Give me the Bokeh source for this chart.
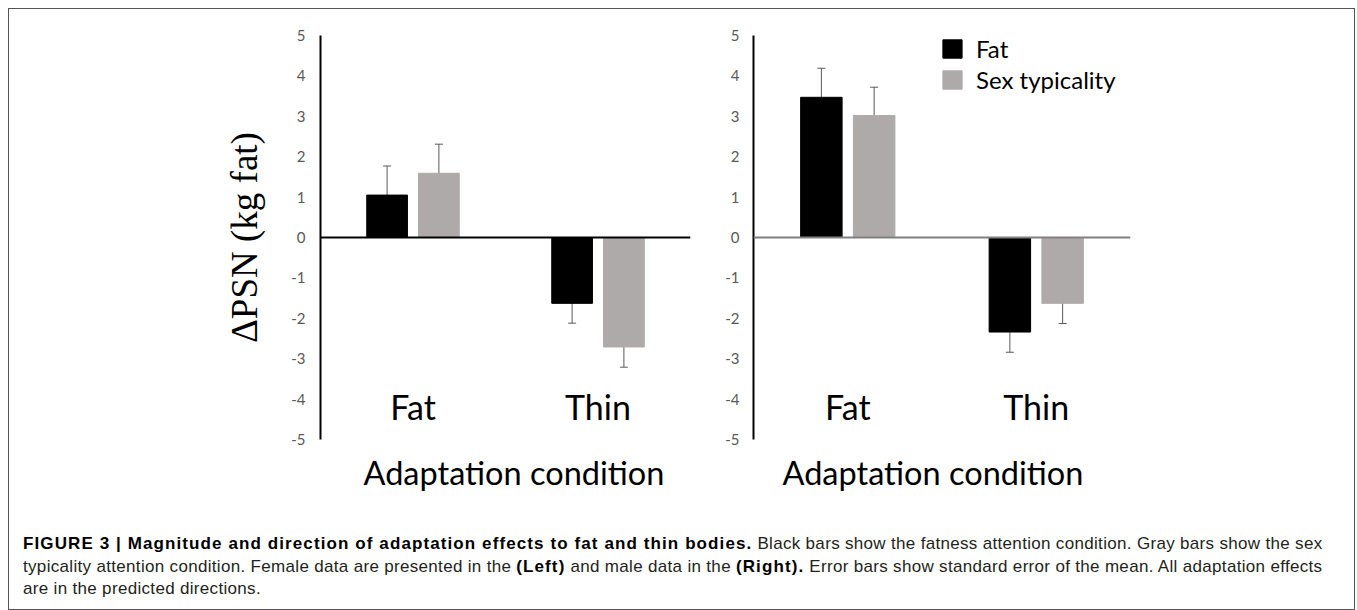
from bokeh.plotting import figure
from bokeh.models import (FactorRange, ColumnDataSource, Whisker, TeeHead, Span, Legend,
                          LegendItem, FixedTicker, Title, Div, Range1d)
from bokeh.transform import dodge
from bokeh.layouts import row, column
from bokeh.embed import file_html
from bokeh.resources import INLINE

# ---------------- data ----------------
categories = ["Fat", "Thin"]
series_names = ["Fat", "Sex typicality"]

female_fat = [1.05, -1.63]
female_fat_err = [0.72, 0.49]
female_sex = [1.59, -2.71]
female_sex_err = [0.72, 0.50]

male_fat = [3.47, -2.34]
male_fat_err = [0.72, 0.50]
male_sex = [3.02, -1.63]
male_sex_err = [0.70, 0.50]

y_ticks = [-5, -4, -3, -2, -1, 0, 1, 2, 3, 4, 5]
y_tick_labels = ["-5", "-4", "-3", "-2", "-1", "0", "1", "2", "3", "4", "5"]
y_title = "\u0394PSN (kg fat)"
x_title = "Adaptation condition"

BLACK = "#000000"
GRAY = "#aeaaaa"
ERR = "#595959"
TICK = "#595959"
SANS = "Lato"


def panel(fat, fat_err, sex, sex_err, width, bl, br, zero_color, ylabel=None, legend=False,
          label_standoff=15, title_offset=0):
    src = ColumnDataSource(dict(
        cat=categories,
        fat=fat, sex=sex,
        fat_lo=[v - e for v, e in zip(fat, fat_err)],
        fat_hi=[v + e for v, e in zip(fat, fat_err)],
        sex_lo=[v - e for v, e in zip(sex, sex_err)],
        sex_hi=[v + e for v, e in zip(sex, sex_err)],
    ))
    p = figure(x_range=FactorRange(*categories), y_range=Range1d(-5, 5),
               width=width, height=496, min_border_left=bl, min_border_right=br,
               min_border_top=26, min_border_bottom=66,
               output_backend="svg", toolbar_location=None)
    p.outline_line_color = None
    p.xgrid.grid_line_color = None
    p.ygrid.grid_line_color = None
    p.background_fill_color = "white"
    p.border_fill_color = "white"

    off = 0.14
    bw = 0.22
    r_fat = p.vbar(x=dodge("cat", -off, range=p.x_range), top="fat", width=bw, source=src,
                   fill_color=BLACK, line_color=BLACK)
    r_sex = p.vbar(x=dodge("cat", off, range=p.x_range), top="sex", width=bw, source=src,
                   fill_color=GRAY, line_color=GRAY)
    for o, lo, hi in [(-off, "fat_lo", "fat_hi"), (off, "sex_lo", "sex_hi")]:
        w = Whisker(base=dodge("cat", o, range=p.x_range), lower=lo, upper=hi, source=src,
                    line_color=ERR, line_width=1,
                    upper_head=TeeHead(size=8, line_color=ERR, line_width=1),
                    lower_head=TeeHead(size=8, line_color=ERR, line_width=1))
        p.add_layout(w)
    p.add_layout(Span(location=0, dimension="width", line_color=zero_color, line_width=2))

    # y axis
    ya = p.yaxis[0]
    ya.ticker = FixedTicker(ticks=y_ticks)
    ya.major_label_overrides = {t: l for t, l in zip(y_ticks, y_tick_labels)}
    ya.axis_line_color = BLACK
    ya.axis_line_width = 2
    ya.major_tick_line_color = None
    ya.minor_tick_line_color = None
    ya.major_tick_out = 0
    ya.major_tick_in = 0
    ya.major_label_text_font = SANS
    ya.major_label_text_font_size = "15px"
    ya.major_label_text_color = TICK
    ya.major_label_standoff = label_standoff
    if ylabel:
        ya.axis_label = ylabel
        ya.axis_label_text_font = "Liberation Serif"
        ya.axis_label_text_font_size = "37px"
        ya.axis_label_text_font_style = "normal"
        ya.axis_label_text_color = BLACK
        ya.axis_label_standoff = 23

    # x axis: category labels placed low, inside the frame
    xa = p.xaxis[0]
    xa.fixed_location = -3.33
    xa.axis_line_color = None
    xa.major_tick_line_color = None
    xa.minor_tick_line_color = None
    xa.major_label_text_font = SANS
    xa.major_label_text_font_size = "34px"
    xa.major_label_text_color = BLACK
    xa.major_label_standoff = 8

    t = Title(text=x_title, align="left", text_font=SANS, text_font_size="32.5px",
              text_font_style="normal", text_color=BLACK, standoff=22, offset=title_offset)
    p.add_layout(t, "below")

    if legend:
        lg = Legend(items=[LegendItem(label=series_names[0], renderers=[r_fat]),
                           LegendItem(label=series_names[1], renderers=[r_sex])],
                    location=(187, 345), glyph_width=24, glyph_height=23, label_height=20,
                    spacing=2, label_standoff=12, padding=0, margin=0,
                    border_line_color=None, background_fill_alpha=0,
                    label_text_font=SANS, label_text_font_size="24px", label_text_color=BLACK)
        p.add_layout(lg)
    return p


pl = panel(female_fat, female_fat_err, female_sex, female_sex_err,
           width=711, bl=311, br=30, zero_color=BLACK, ylabel=y_title, label_standoff=15,
           title_offset=43)
pr = panel(male_fat, male_fat_err, male_sex, male_sex_err,
           width=634, bl=33, br=224, zero_color="#808080", legend=True, label_standoff=14,
           title_offset=29)

BOLD = 'style="color:#000;letter-spacing:1.1px"'
caption_html = (
    '<div style="font-family:\'Liberation Sans\',Arial,sans-serif;font-size:17px;line-height:22.5px;'
    'letter-spacing:0.32px;color:#231f20;padding:23px 0 0 9px;white-space:nowrap;">'
    '<b ' + BOLD + '>FIGURE 3 | Magnitude and direction of adaptation effects to fat and thin bodies.</b>'
    ' Black bars show the fatness attention condition. Gray bars show the sex<br>'
    'typicality attention condition. Female data are presented in the <b ' + BOLD + '>(Left)</b>'
    ' and male data in the <b ' + BOLD + '>(Right).</b> Error bars show standard error of the mean.'
    ' All adaptation effects<br>are in the predicted directions.</div>'
)
cap = Div(text=caption_html, width=1345, height=104)

lay = column(row(pl, pr), cap, width=1345, height=600, margin=(9, 0, 0, 9),
             styles={"outline": "1px solid #555555", "background": "white"})

open("out.html", "w").write(file_html(lay, INLINE))
